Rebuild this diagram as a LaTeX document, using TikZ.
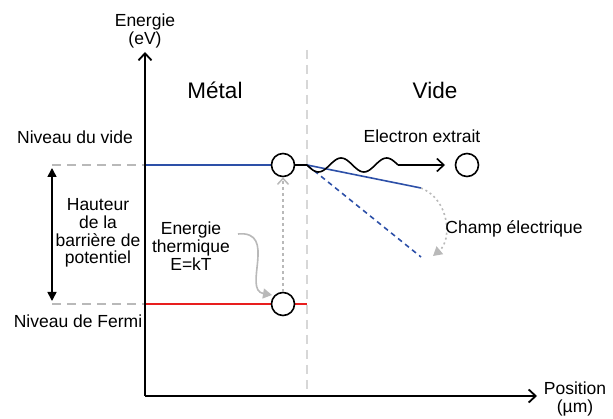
\documentclass[tikz,border=0pt]{standalone}
\usepackage{fontspec}
\setmainfont{Liberation Sans}
\usetikzlibrary{arrows.meta}
\definecolor{bl}{RGB}{45,80,168}
\definecolor{rd}{RGB}{232,30,30}
\definecolor{gr}{RGB}{185,185,185}
\definecolor{lgr}{RGB}{215,215,215}
\tikzset{
  lbl/.style={font=\fontsize{17.5}{17.7}\selectfont, inner sep=0pt, align=center},
  big/.style={font=\fontsize{22.5}{24}\selectfont, inner sep=0pt},
  axis/.style={line width=1.8pt, -{Straight Barb[length=7pt,width=13pt,line width=1.8pt]}},
  elec/.style={circle, draw, line width=1.6pt, minimum size=23pt, inner sep=0pt, fill=white},
  gdash/.style={gr, line width=1.5pt, dash pattern=on 9pt off 6pt},
}
\begin{document}
\begin{tikzpicture}[x=1pt,y=-1pt]
\useasboundingbox (0,0) rectangle (613,419);
% coordinates
\coordinate (O) at (145,396);
\coordinate (Ytop) at (145,52);
\coordinate (Xend) at (537,396);
\coordinate (vl) at (52,165);
\coordinate (fl) at (52,304);
\coordinate (va) at (145,165);
\coordinate (fa) at (145,304);
\coordinate (sep) at (307,165);
\coordinate (septop) at (307,50);
\coordinate (sepbot) at (307,396);
\coordinate (fe) at (307,304);
\coordinate (wend) at (398,165);
\coordinate (atip) at (445,165);
\coordinate (bs) at (421,188);
\coordinate (bd) at (421,257);
% separator
\draw[lgr, line width=1.5pt, dash pattern=on 9pt off 6pt] (septop) -- (sepbot);
% grey dashed level extensions
\draw[gdash] (vl) -- (va);
\draw[gdash] (fl) -- (fa);
% levels
\draw[bl, line width=1.6pt] (va) -- (283,165);
\draw[rd, line width=1.6pt] (fa) -- (fe);
% field lines
\draw[bl, line width=1.6pt] (sep) -- (bs);
\draw[bl, line width=1.6pt, dash pattern=on 5pt off 4pt] (sep) -- (bd);
% axes
\draw[axis] (O) -- (Ytop);
\draw[axis] (O) -- (Xend);
% barrier arrow
\draw[line width=1.6pt, {Triangle[length=9pt,width=9pt]}-{Triangle[length=9pt,width=9pt]}] (52,168) -- (52,301);
% electrons
\node[elec] (ev) at (283,165) {};
\node[elec] (ef) at (283,304) {};
\node[elec] (ex) at (467,165) {};
% thermal excitation arrow
\draw[gr, line width=1.5pt, dash pattern=on 3pt off 3pt, -{Straight Barb[length=6pt,width=11pt,line width=1.5pt]}] (ef.north) -- (ev.south);
% short link, wave, arrow
\draw[line width=1.6pt] (ev.east) -- (sep);
\draw[line width=1.6pt] plot[domain=0:2, samples=60, smooth] ({307+\x*45.5}, {165+7*sin(\x*360)});
\draw[line width=1.6pt, -{Straight Barb[length=7pt,width=13pt,line width=1.6pt]}] (wend) -- (atip);
% curved grey arrows
\draw[gr, line width=1.6pt, -{Triangle[length=9pt,width=10pt]}] (238,234) .. controls (278,230) and (242,290) .. (272,295);
\draw[gr, line width=1.6pt, dash pattern=on 2pt off 3pt, -{Triangle[length=9pt,width=10pt]}] (bs) .. controls (450,200) and (452,240) .. (433,256);
% labels
\node[lbl] (le) at (145,31) {Energie\\(eV)};
\node[lbl] (lp) at (575,399) {Position\\(µm)};
\node[big] (lm) at (215,90) {Métal};
\node[big] (lv) at (435,90) {Vide};
\node[lbl] (lnv) at (75,137) {Niveau du vide};
\node[lbl] (lnf) at (78,321) {Niveau de Fermi};
\node[lbl] (lh) at (98,233) {Hauteur\\de la\\barrière de\\potentiel};
\node[lbl] (lt) at (191,246) {Energie\\thermique\\E=kT};
\node[lbl] (lx) at (422,136) {Electron extrait};
\node[lbl] (lc) at (514,229) {Champ électrique};
\end{tikzpicture}
\end{document}
